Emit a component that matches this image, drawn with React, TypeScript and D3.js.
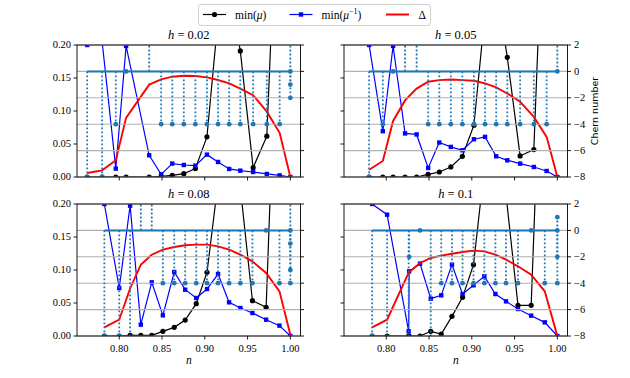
import React from "react";
import * as d3 from "d3";

// ---------- data ----------
const hLabels = ["0.02", "0.05", "0.08", "0.1"];

// h = 0.02
const nA = [0.7625, 0.78, 0.796, 0.808, 0.835, 0.849, 0.862, 0.8755, 0.889, 0.9025, 0.9155, 0.9285, 0.9415, 0.9565, 0.9725, 0.9875, 1.0];
const muA = [0, 0, 0, 0, 0, 0.001, 0.0025, 0.005, 0.0127, 0.0608, 0.24, 0.29, 0.191, 0.0142, 0.0618, 0.53, 0.8];
const muInvA = [0.2, 0.205, 0.0127, 0.1985, 0.0329, 0.004, 0.0203, 0.0182, 0.0172, 0.0339, 0.0228, 0.0122, 0.0096, 0.0076, 0.0046, 0.0025, 0.0];
const deltaA = [0.006, 0.0101, 0.0253, 0.0896, 0.14, 0.148, 0.152, 0.1534, 0.153, 0.151, 0.147, 0.142, 0.134, 0.124, 0.099, 0.067, 0.0];
const chernNA = [0.7625, 0.78, 0.796, 0.808, 0.835, 0.849, 0.862, 0.8755, 0.889, 0.9025, 0.9155, 0.9285, 0.9415, 0.9565, 0.9725, 0.9875, 1.0, 1.0, 1.0, 1.0];
const chernA = [-8, -8, -4, 0, 3, -4, -4, -4, -4, -4, -4, -4, -4, -4, -4, -4, 3, 0, -1, -2];

// h = 0.05
const nB = [0.78, 0.796, 0.808, 0.822, 0.8355, 0.849, 0.862, 0.8755, 0.889, 0.9025, 0.9155, 0.9285, 0.9415, 0.9565, 0.9725, 0.9875, 1.0];
const muB = [0, 0, 0, 0, 0, 0.004, 0.0076, 0.0152, 0.0314, 0.0785, 0.25, 0.29, 0.1813, 0.0319, 0.0415, 0.54, 0.7];
const muInvB = [0.2, 0.0694, 0.1985, 0.066, 0.0645, 0.0137, 0.0522, 0.0456, 0.0405, 0.0572, 0.0608, 0.0314, 0.0253, 0.0203, 0.0152, 0.0091, 0.0];
const deltaB = [0.011, 0.0243, 0.085, 0.116, 0.134, 0.1443, 0.1468, 0.1478, 0.1468, 0.1458, 0.1418, 0.1357, 0.1266, 0.1139, 0.0911, 0.0608, 0.0];
const chernNB = [0.78, 0.796, 0.808, 0.822, 0.8355, 0.849, 0.862, 0.8755, 0.889, 0.9025, 0.9155, 0.9285, 0.9415, 0.9565, 0.9725, 0.9875, 1.0, 1.0];
const chernB = [-8, -4, 0, 3, 3, -4, -4, -4, -4, -4, -4, -4, -4, -4, -4, -4, 3, 0];

// h = 0.08
const nC = [0.7826, 0.8, 0.8127, 0.8252, 0.838, 0.851, 0.8643, 0.8771, 0.89, 0.9026, 0.9155, 0.9284, 0.9416, 0.9557, 0.9717, 0.9873, 1.0];
const muC = [0, 0, 0.001, 0.001, 0.001, 0.0071, 0.0131, 0.0242, 0.049, 0.0965, 0.233, 0.3, 0.224, 0.0535, 0.0434, 0.6, 0.8];
const muInvC = [0.2, 0.0727, 0.1975, 0.0172, 0.0813, 0.0313, 0.097, 0.0702, 0.0576, 0.0712, 0.0939, 0.051, 0.0424, 0.0348, 0.0247, 0.0157, 0];
const deltaC = [0.0131, 0.0247, 0.072, 0.108, 0.1232, 0.1308, 0.1348, 0.1374, 0.1384, 0.1384, 0.1359, 0.1308, 0.1232, 0.1131, 0.0955, 0.0677, 0.002];
const chernNC = [0.7826, 0.8, 0.8127, 0.8252, 0.838, 0.851, 0.8643, 0.8771, 0.89, 0.9026, 0.9155, 0.9284, 0.9416, 0.9557, 0.9717, 0.9873, 1.0, 1.0, 1.0, 1.0, 1.0];
const chernC = [-8, -8, -9, 3, 3, -4, -4, -4, -4, -4, -4, -4, -4, -4, 0, -4, 3, 0, -1, -3, -4];

// h = 0.1
const nD = [0.7835, 0.801, 0.8262, 0.8268, 0.8395, 0.852, 0.8643, 0.8768, 0.8892, 0.902, 0.9147, 0.9276, 0.94, 0.954, 0.9694, 0.9853, 1.0];
const muD = [0, 0, 0, 0, 0, 0.0071, 0.003, 0.0298, 0.0586, 0.108, 0.255, 0.3, 0.214, 0.0465, 0.0465, 0.6, 0.8];
const muInvD = [0.2, 0.1838, 0.0071, 0.098, 0.1096, 0.0566, 0.0616, 0.1081, 0.0636, 0.0768, 0.0904, 0.0636, 0.0525, 0.0409, 0.0308, 0.0207, 0];
const deltaD = [0.0131, 0.0247, 0.096, 0.0965, 0.1106, 0.1182, 0.1217, 0.1247, 0.1273, 0.1293, 0.1283, 0.1232, 0.1157, 0.1056, 0.0929, 0.0677, 0];
const chernND = [0.7835, 0.801, 0.8262, 0.8268, 0.8395, 0.852, 0.8643, 0.8768, 0.8892, 0.902, 0.9147, 0.9276, 0.94, 0.954, 0.9694, 0.9853, 1.0, 1.0, 1.0, 1.0];
const chernD = [-8, -9, -9, -2, 0, -9, -4, -4, -4, -4, -4, -4, -4, -4, 0, -4, 1, 0, -2, -4];

const leftTicks = [0, 0.05, 0.1, 0.15, 0.2];
const rightTicks = [-8, -6, -4, -2, 0, 2];

// ---------- layout ----------
const W = 223.5;
const H = 132;
const LEFTS = [77, 344];
const TOPS = [45, 204];
const C0 = "#1f77b4";
const SERIF = "Liberation Serif";

const allN = [...nA, ...nB, ...nC, ...nD];
const nMin = d3.min(allN) as number;
const nMax = d3.max(allN) as number;
const pad = (nMax - nMin) * 0.05;
const xDomain: [number, number] = [nMin - pad, nMax + pad];

type PanelProps = {
  id: string;
  left: number;
  top: number;
  h: string;
  n: number[];
  mu: number[];
  muInv: number[];
  delta: number[];
  chernN: number[];
  chern: number[];
  col: number;
  row: number;
};

const serifStyle = { fontFamily: SERIF };

function Panel(p: PanelProps) {
  const { left, top, n, col, row } = p;
  const x = d3.scaleLinear().domain(xDomain).range([left, left + W]);
  const yL = d3.scaleLinear().domain([0, 0.2]).range([top + H, top]);
  const yR = d3.scaleLinear().domain([-8, 2]).range([top + H, top]);
  const line = d3
    .line<number>()
    .x((_, i) => x(n[i]))
    .y((d) => yL(d));
  const fmt2 = d3.format(".2f");
  const fmtR = d3.format("d");
  const xTicks = x.ticks(5);
  const clip = `url(#clip-${p.id})`;
  const cn = p.chernN;
  const baseX0 = x(d3.min(cn) as number);
  const baseX1 = x(d3.max(cn) as number);
  const sq = 4.4;

  return (
    <g>
      <defs>
        <clipPath id={`clip-${p.id}`}>
          <rect x={left} y={top} width={W} height={H} />
        </clipPath>
      </defs>
      <g clipPath={clip}>
        <path d={line(p.mu) || ""} fill="none" stroke="black" strokeWidth={1.2} />
        {p.mu.map((v, i) => (
          <circle key={"m" + i} cx={x(n[i])} cy={yL(v)} r={2.6} fill="black" />
        ))}
        <path d={line(p.muInv) || ""} fill="none" stroke="blue" strokeWidth={1.2} />
        {p.muInv.map((v, i) => (
          <rect key={"b" + i} x={x(n[i]) - sq / 2} y={yL(v) - sq / 2} width={sq} height={sq} fill="blue" />
        ))}
        <path d={line(p.delta) || ""} fill="none" stroke="red" strokeWidth={1.9} />
      </g>
      {rightTicks.map((t) => (
        <line key={"g" + t} x1={left} x2={left + W} y1={yR(t)} y2={yR(t)} stroke="#b0b0b0" strokeWidth={1.1} />
      ))}
      <g clipPath={clip}>
        {p.chern.map((v, i) => (
          <line
            key={"s" + i}
            x1={x(cn[i])}
            x2={x(cn[i])}
            y1={yR(0)}
            y2={yR(v)}
            stroke={C0}
            strokeWidth={1.8}
            strokeDasharray="1.8 2.2"
          />
        ))}
        <line x1={baseX0} x2={baseX1} y1={yR(0)} y2={yR(0)} stroke={C0} strokeWidth={2} />
        {p.chern.map((v, i) => (
          <circle key={"c" + i} cx={x(cn[i])} cy={yR(v)} r={2.4} fill={C0} />
        ))}
      </g>
      <rect x={left} y={top} width={W} height={H} fill="none" stroke="black" strokeWidth={0.9} />
      {xTicks.map((t) => (
        <g key={"xt" + t}>
          <line x1={x(t)} x2={x(t)} y1={top + H} y2={top + H + 3.5} stroke="black" strokeWidth={0.9} />
          {row === 1 && (
            <text x={x(t)} y={top + H + 16} textAnchor="middle" style={serifStyle} fontSize={10.5} fill="black">
              {fmt2(t)}
            </text>
          )}
        </g>
      ))}
      {leftTicks.map((t) => (
        <g key={"yl" + t}>
          <line x1={left - 3.5} x2={left} y1={yL(t)} y2={yL(t)} stroke="black" strokeWidth={0.9} />
          {col === 0 && (
            <text x={left - 6} y={yL(t)} dy="0.33em" textAnchor="end" style={serifStyle} fontSize={10.5} fill="black">
              {fmt2(t)}
            </text>
          )}
        </g>
      ))}
      {rightTicks.map((t) => (
        <g key={"yr" + t}>
          <line x1={left + W} x2={left + W + 3.5} y1={yR(t)} y2={yR(t)} stroke="black" strokeWidth={0.9} />
          {col === 1 && (
            <text x={left + W + 6.5} y={yR(t)} dy="0.33em" textAnchor="start" style={serifStyle} fontSize={10.5} fill="black">
              {fmtR(t)}
            </text>
          )}
        </g>
      ))}
      <text x={left + W / 2} y={top - 6} textAnchor="middle" style={serifStyle} fontSize={12.5} fill="black">
        <tspan fontStyle="italic">h</tspan>
        <tspan> = {p.h}</tspan>
      </text>
      {row === 1 && (
        <text x={left + W / 2} y={top + H + 28} textAnchor="middle" style={serifStyle} fontSize={11.5} fontStyle="italic" fill="black">
          n
        </text>
      )}
      {col === 1 && row === 0 && (
        <text
          transform={`translate(${left + W + 30},${top + H / 2}) rotate(-90)`}
          textAnchor="middle"
          style={{ fontFamily: "DejaVu Sans" }}
          fontSize={9.5}
          fill="black"
        >
          Chern number
        </text>
      )}
    </g>
  );
}

function Legend() {
  const y = 14.5;
  const items = [
    { x: 203, color: "black", kind: "circle" },
    { x: 289.5, color: "blue", kind: "square" },
    { x: 386, color: "red", kind: "none" },
  ];
  const len = 23;
  return (
    <g>
      <rect x={198.5} y={4.5} width={232} height={21} rx={2.5} fill="white" fillOpacity={0.8} stroke="#cccccc" strokeWidth={0.9} />
      {items.map((it, i) => (
        <g key={i}>
          <line x1={it.x} x2={it.x + len} y1={y} y2={y} stroke={it.color} strokeWidth={it.kind === "none" ? 2 : 1.2} />
          {it.kind === "circle" && <circle cx={it.x + len / 2} cy={y} r={2.6} fill={it.color} />}
          {it.kind === "square" && <rect x={it.x + len / 2 - 2.2} y={y - 2.2} width={4.4} height={4.4} fill={it.color} />}
        </g>
      ))}
      <text x={235} y={18.5} style={serifStyle} fontSize={11.5} fill="black">
        min(<tspan fontStyle="italic">μ</tspan>)
      </text>
      <text x={321.5} y={18.5} style={serifStyle} fontSize={11.5} fill="black">
        min(<tspan fontStyle="italic">μ</tspan>
        <tspan fontSize={8} dy={-4.5}>−1</tspan>
        <tspan dy={4.5}>)</tspan>
      </text>
      <text x={418.5} y={18.5} style={serifStyle} fontSize={11.5} fill="black">
        Δ
      </text>
    </g>
  );
}

export default function App() {
  const panels = [
    { id: "a", h: hLabels[0], n: nA, mu: muA, muInv: muInvA, delta: deltaA, chernN: chernNA, chern: chernA, col: 0, row: 0 },
    { id: "b", h: hLabels[1], n: nB, mu: muB, muInv: muInvB, delta: deltaB, chernN: chernNB, chern: chernB, col: 1, row: 0 },
    { id: "c", h: hLabels[2], n: nC, mu: muC, muInv: muInvC, delta: deltaC, chernN: chernNC, chern: chernC, col: 0, row: 1 },
    { id: "d", h: hLabels[3], n: nD, mu: muD, muInv: muInvD, delta: deltaD, chernN: chernND, chern: chernD, col: 1, row: 1 },
  ];
  return (
    <svg
      width={630}
      height={378}
      viewBox="0 0 630 378"
      style={{ position: "absolute", left: 0, top: 0, background: "white", fontFamily: SERIF }}
    >
      <rect x={0} y={0} width={630} height={378} fill="white" />
      {panels.map((p) => (
        <Panel key={p.id} {...p} left={LEFTS[p.col]} top={TOPS[p.row]} />
      ))}
      <Legend />
    </svg>
  );
}
